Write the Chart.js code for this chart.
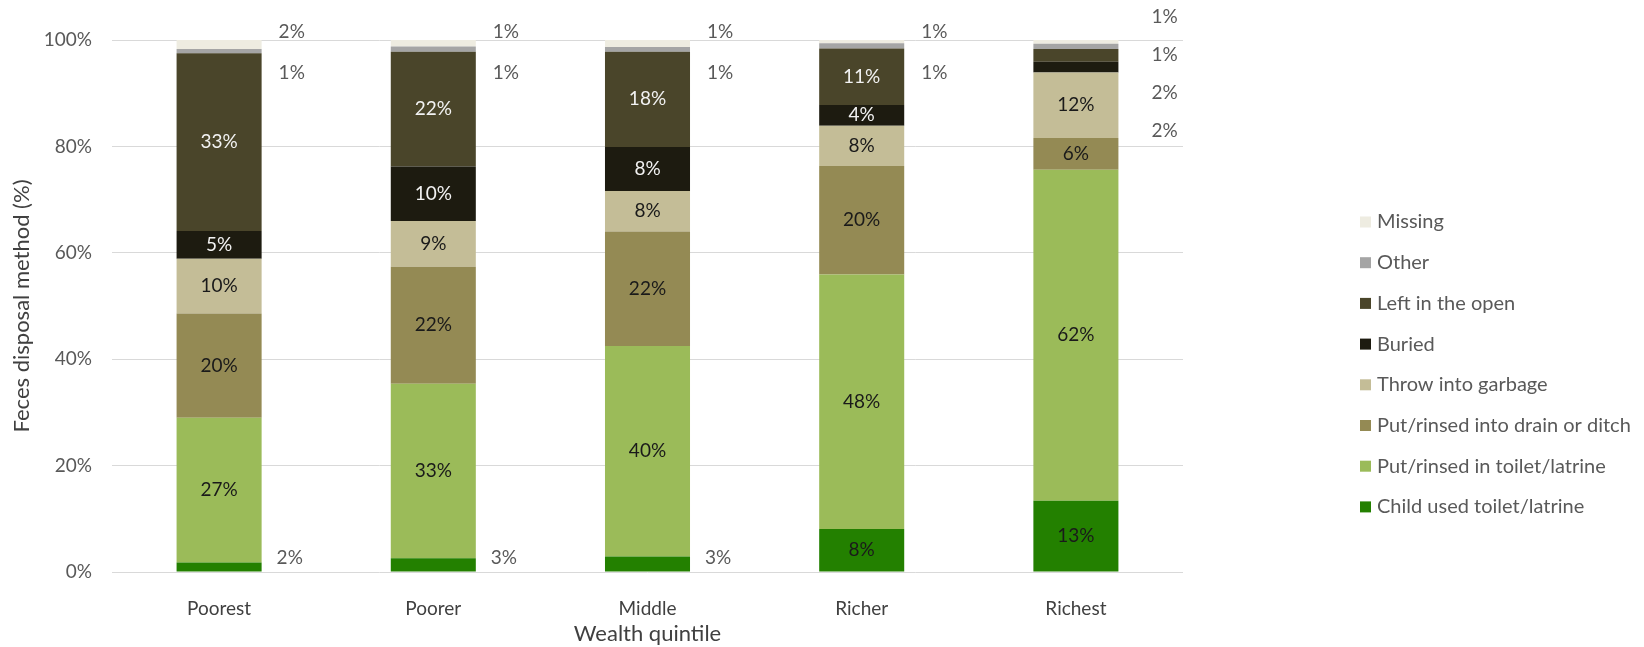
<!DOCTYPE html>
<html>
<head>
<meta charset="utf-8">
<title>Feces disposal method by wealth quintile</title>
<script src="https://cdn.jsdelivr.net/npm/chart.js@4.4.1/dist/chart.umd.min.js"></script>
<style>
    html, body { margin: 0; padding: 0; background: #ffffff; }
    #chartBox { width: 1644px; height: 647px; }
</style>
</head>
<body>
<div id="chartBox"><canvas id="disposalChart"></canvas></div>
<script>
'use strict';

//categories (x axis)
var quintiles = ["Poorest", "Poorer", "Middle", "Richer", "Richest"];

//share of children (%) by disposal method, bottom of the stack first
var childUsedToilet  = [1.8, 2.6, 2.9, 8.1, 13.4];
var rinsedInToilet   = [27.2, 32.8, 39.6, 47.8, 62.2];
var rinsedIntoDrain  = [19.6, 22.0, 21.5, 20.4, 6.0];
var throwIntoGarbage = [10.3, 8.6, 7.6, 7.6, 12.3];
var buried           = [5.2, 10.2, 8.3, 3.9, 2.0];
var leftInOpen       = [33.4, 21.6, 17.9, 10.6, 2.4];
var otherMethod      = [0.8, 1.0, 0.9, 1.0, 1.0];
var missing          = [1.7, 1.2, 1.3, 0.6, 0.7];

//y axis ticks
var yTicks = [0, 20, 40, 60, 80, 100];

var FONT = "Lato, 'Open Sans', sans-serif";
var SMALL = 3; //segments below this get their label outside the bar

$ready(function() {
    drawDisposalChart();
});

function $ready(fn) {
    if (document.readyState !== 'loading') fn();
    else document.addEventListener('DOMContentLoaded', fn);
}

/*
********************************************************************************
* value labels: inside the bar for big segments, to the right for small ones
********************************************************************************
*/
var segmentLabels = {
    id: 'segmentLabels',
    afterDatasetsDraw: function(chart) {
        var ctx = chart.ctx;
        var top = chart.chartArea.top;
        ctx.save();
        ctx.font = "19px " + FONT;
        ctx.textBaseline = 'middle';

        quintiles.forEach(function(q, j) {
            var callouts = [];//small segments above the bottom one

            chart.data.datasets.forEach(function(ds, i) {
                var bar = chart.getDatasetMeta(i).data[j];
                var value = ds.data[j];
                var text = Math.round(value) + '%';
                var p = bar.getProps(['x', 'y', 'base', 'width'], true);

                if (value >= SMALL) {
                    ctx.textAlign = 'center';
                    ctx.fillStyle = ds.labelColor;
                    ctx.fillText(text, p.x, (p.y + p.base) / 2);
                } else if (i === 0) {
                    ctx.textAlign = 'left';
                    ctx.fillStyle = '#595959';
                    ctx.fillText(text, p.x + p.width / 2 + 15, p.base - 14);
                } else {
                    callouts.unshift({text: text, right: p.x + p.width / 2});
                }
            });

            var crowded = callouts.length > 2;
            var startY = crowded ? top - 23 : top - 8;
            var step = crowded ? 38 : 41;
            var dx = crowded ? 33 : 17;
            callouts.forEach(function(c, k) {
                ctx.textAlign = 'left';
                ctx.fillStyle = '#595959';
                ctx.fillText(c.text, c.right + dx, startY + k * step);
            });
        });
        ctx.restore();
    }
};

/*
********************************************************************************
* legend on the right, top entry is the top of the stack
********************************************************************************
*/
var sideLegend = {
    id: 'sideLegend',
    afterDraw: function(chart) {
        var ctx = chart.ctx;
        var sets = chart.data.datasets.slice().reverse();
        ctx.save();
        ctx.font = "20px " + FONT;
        ctx.textBaseline = 'middle';
        ctx.textAlign = 'left';
        sets.forEach(function(ds, k) {
            var yc = 222 + k * 40.7;
            ctx.fillStyle = ds.backgroundColor;
            ctx.fillRect(1360, yc - 5.5, 11, 11);
            ctx.fillStyle = '#595959';
            ctx.fillText(ds.label, 1377, yc);
        });
        ctx.restore();
    }
};

function drawDisposalChart() {
    var datasets = [
        {label: 'Child used toilet/latrine', data: childUsedToilet, backgroundColor: '#238000', labelColor: '#1a1a1a'},
        {label: 'Put/rinsed in toilet/latrine', data: rinsedInToilet, backgroundColor: '#9bbb59', labelColor: '#1a1a1a'},
        {label: 'Put/rinsed into drain or ditch', data: rinsedIntoDrain, backgroundColor: '#948a54', labelColor: '#1a1a1a'},
        {label: 'Throw into garbage', data: throwIntoGarbage, backgroundColor: '#c4bd97', labelColor: '#1a1a1a'},
        {label: 'Buried', data: buried, backgroundColor: '#1d1b10', labelColor: '#f2f2f2'},
        {label: 'Left in the open', data: leftInOpen, backgroundColor: '#4a452a', labelColor: '#f2f2f2'},
        {label: 'Other', data: otherMethod, backgroundColor: '#a5a5a5', labelColor: '#1a1a1a'},
        {label: 'Missing', data: missing, backgroundColor: '#eeece1', labelColor: '#1a1a1a'}
    ];

    var ctx = document.getElementById("disposalChart").getContext("2d");

    window.disposalBar = new Chart(ctx, {
        type: 'bar',
        data: {
            labels: quintiles,
            datasets: datasets
        },
        options: {
            responsive: true,
            maintainAspectRatio: false,
            animation: false,
            barPercentage: 0.397,
            categoryPercentage: 1,
            layout: {
                padding: {left: 0, top: 40, right: 461, bottom: 0}
            },
            plugins: {
                legend: {display: false},
                tooltip: {enabled: false}
            },
            scales: {
                x: {
                    stacked: true,
                    grid: {display: false},
                    border: {display: false},
                    ticks: {
                        color: '#404040',
                        font: {family: FONT, size: 19},
                        padding: 17
                    },
                    title: {
                        display: true,
                        text: 'Wealth quintile',
                        color: '#404040',
                        font: {family: FONT, size: 22},
                        padding: {top: 0, bottom: 0}
                    },
                    afterFit: function(scale) { scale.height = 75; }
                },
                y: {
                    stacked: true,
                    min: 0,
                    max: 100,
                    grid: {color: '#d9d9d9', lineWidth: 1, drawTicks: false},
                    border: {display: false},
                    afterBuildTicks: function(scale) {
                        scale.ticks = yTicks.map(function(v) { return {value: v}; });
                    },
                    ticks: {
                        color: '#595959',
                        font: {family: FONT, size: 19},
                        padding: 20,
                        callback: function(v) { return v + '%'; }
                    },
                    title: {
                        display: true,
                        text: 'Feces disposal method (%)',
                        color: '#404040',
                        font: {family: FONT, size: 22},
                        padding: {top: 9, bottom: 0}
                    },
                    afterFit: function(scale) { scale.width = 112; }
                }
            }
        },
        plugins: [segmentLabels, sideLegend]
    });
}
</script>
</body>
</html>
